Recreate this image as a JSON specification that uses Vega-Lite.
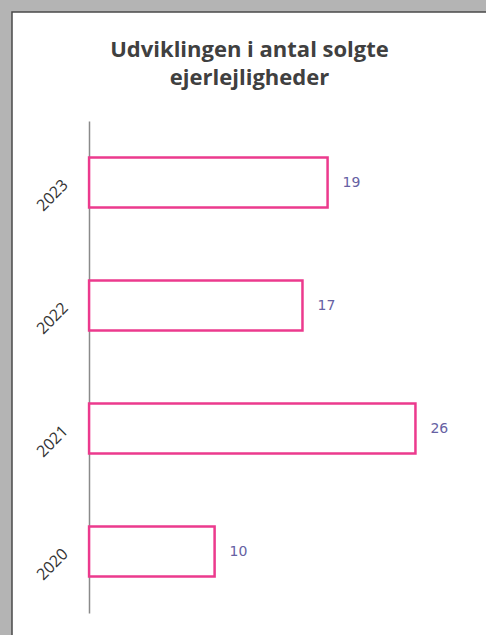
{
  "$schema": "https://vega.github.io/schema/vega-lite/v6.json",
  "autosize": {"type": "none"},
  "padding": {"left": 12, "top": 12, "right": 0, "bottom": 0},
  "width": 475,
  "height": 624,
  "background": "#b4b4b4",
  "view": {"fill": "white", "stroke": "#4a4a4a", "strokeWidth": 1.5},
  "title": {
    "text": ["Udviklingen i antal solgte", "ejerlejligheder"],
    "anchor": "middle",
    "frame": "group",
    "offset": -78,
    "font": "Open Sans",
    "fontSize": 22,
    "fontWeight": "bold",
    "color": "#404040",
    "lineHeight": 28
  },
  "data": {
    "values": [
      {"year": "2023", "count": 19},
      {"year": "2022", "count": 17},
      {"year": "2021", "count": 26},
      {"year": "2020", "count": 10}
    ]
  },
  "encoding": {
    "y": {
      "field": "year",
      "type": "nominal",
      "sort": "descending",
      "scale": {"range": [109, 601], "paddingInner": 0.594, "paddingOuter": 0.297},
      "axis": {
        "title": null,
        "offset": -77,
        "ticks": false,
        "domainColor": "#8a8a8a",
        "domainWidth": 1.5,
        "labelAngle": -45,
        "labelAlign": "right",
        "labelBaseline": "middle",
        "labelPadding": 24,
        "labelFont": "Open Sans",
        "labelFontSize": 16,
        "labelColor": "#333333",
        "grid": false
      }
    }
  },
  "layer": [
    {
      "mark": {"type": "bar", "fill": "white", "stroke": "#ec3a8d", "strokeWidth": 2.5},
      "encoding": {
        "x": {
          "field": "count",
          "type": "quantitative",
          "scale": {"domain": [-6.14, 31.7], "zero": false, "nice": false},
          "axis": null
        },
        "x2": {"datum": 0}
      }
    },
    {
      "mark": {"type": "text", "align": "left", "baseline": "middle", "dx": 15, "font": "DejaVu Sans", "fontSize": 14, "color": "#6661a3"},
      "encoding": {
        "x": {"field": "count", "type": "quantitative"},
        "text": {"field": "count", "type": "quantitative"}
      }
    }
  ]
}
